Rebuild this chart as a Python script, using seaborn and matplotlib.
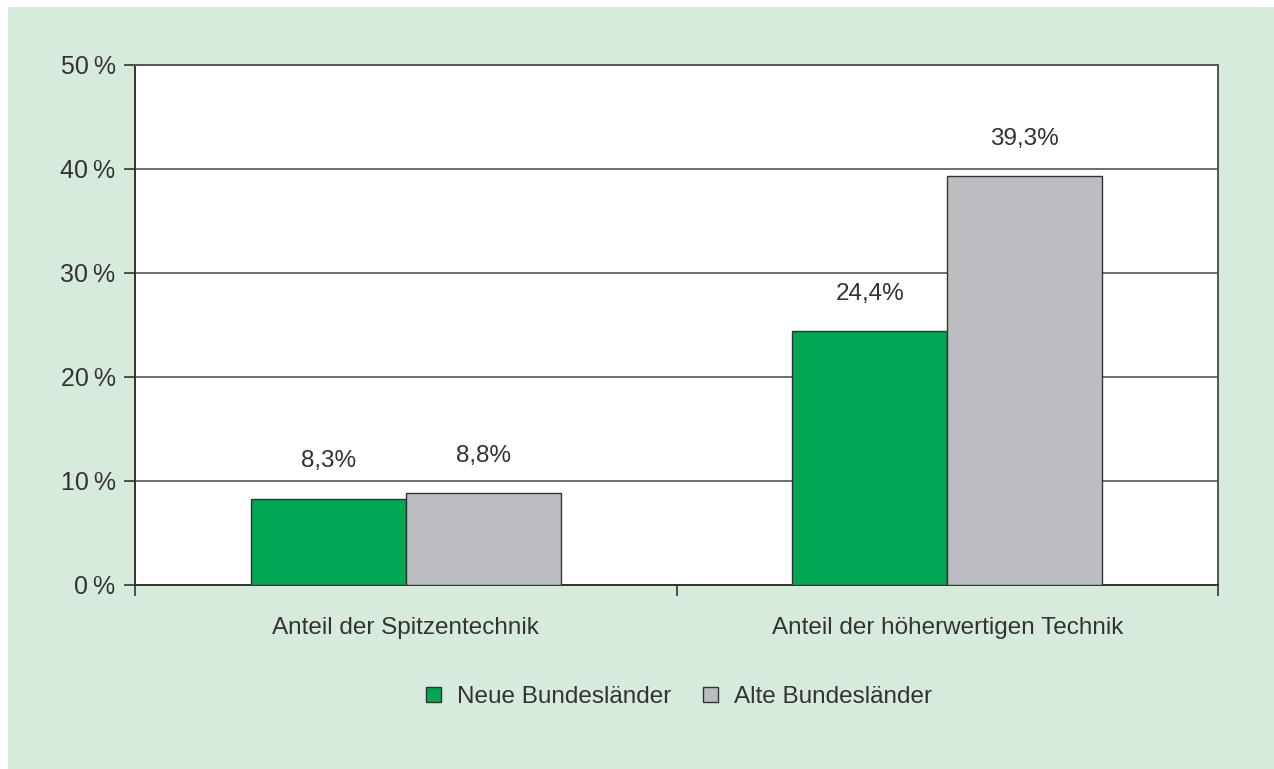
import matplotlib
matplotlib.use("Agg")
import matplotlib.pyplot as plt
import seaborn as sns
import pandas as pd
from matplotlib.patches import Rectangle, Patch

# data
categories = ["Anteil der Spitzentechnik", "Anteil der höherwertigen Technik"]
series = ["Neue Bundesländer", "Alte Bundesländer"]
neue = [8.3, 24.4]
alte = [8.8, 39.3]
y_ticks = [0, 10, 20, 30, 40, 50]

colors = ["#00a651", "#bcbdc1"]
dark = "#333333"
fs = 17.5

df = pd.DataFrame({
    "Kategorie": categories * 2,
    "Gruppe": [series[0]] * 2 + [series[1]] * 2,
    "Wert": neue + alte,
})

sns.set_theme(style="white")
plt.rcParams["font.family"] = ["Liberation Sans", "DejaVu Sans"]

fig = plt.figure(figsize=(12.74, 7.69), dpi=100)
fig.patch.set_facecolor("white")
fig.patches.append(Rectangle((8 / 1274, 0), 1, 1 - 7 / 769, transform=fig.transFigure,
                             facecolor="#d7ebdd", edgecolor="none", zorder=-10))

ax = fig.add_axes([135 / 1274, 1 - 585 / 769, (1218 - 135) / 1274, (585 - 65) / 769])
ax.set_facecolor("white")

sns.barplot(data=df, x="Kategorie", y="Wert", hue="Gruppe", hue_order=series,
            palette=colors, width=0.572, gap=0, edgecolor=dark, linewidth=1,
            saturation=1, legend=False, ax=ax, zorder=3)

for cont in ax.containers:
    ax.bar_label(cont, labels=[f"{v:.1f}".replace(".", ",") + "%" for v in cont.datavalues],
                 padding=19, fontsize=fs, color=dark)

ax.set_xlim(-0.5, 1.5)
ax.set_ylim(0, 50)
ax.set_yticks(y_ticks)
ax.set_yticklabels([f"{t}\u2009%" for t in y_ticks], fontsize=fs + 0.5, color=dark)
ax.yaxis.grid(True, color="#555555", linewidth=1.2, zorder=0)
ax.set_axisbelow(True)

ax.set_xticks([0, 1])
ax.set_xticklabels(categories, fontsize=fs, color=dark)
ax.set_xticks([-0.5, 0.5, 1.5], minor=True)
ax.tick_params(axis="x", which="major", length=0, pad=23)
ax.tick_params(axis="x", which="minor", length=8, width=1.2, color=dark, bottom=True)
ax.tick_params(axis="y", length=8, width=1.2, color=dark, left=True, pad=6)
ax.set_xlabel("")
ax.set_ylabel("")

for side in ["left", "bottom", "right", "top"]:
    ax.spines[side].set_visible(True)
    ax.spines[side].set_color(dark)
    ax.spines[side].set_linewidth(1.4)
ax.spines["top"].set_color("#555555")
ax.spines["right"].set_color("#555555")

handles = [Patch(facecolor=c, edgecolor=dark, linewidth=1) for c in colors]
fig.legend(handles, series, loc="center", bbox_to_anchor=(679 / 1274, 1 - 697 / 769),
           ncol=2, frameon=False, fontsize=fs, handlelength=0.62, handleheight=0.62,
           handletextpad=0.65, columnspacing=1.3, labelcolor=dark)

fig.savefig("out.png", dpi=100, facecolor=fig.get_facecolor())
